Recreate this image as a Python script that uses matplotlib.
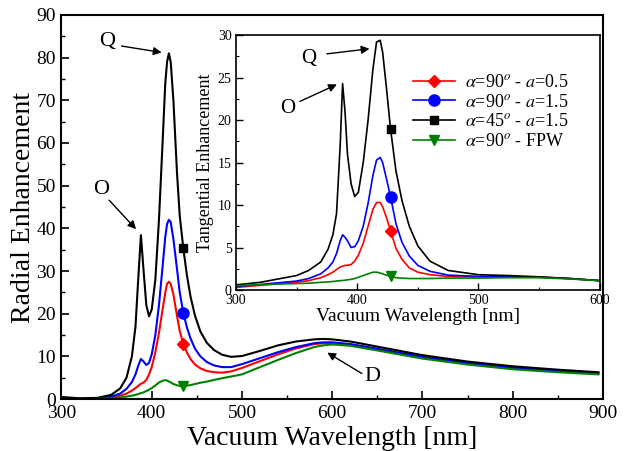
import numpy as np
import matplotlib
matplotlib.use("Agg")
import matplotlib.pyplot as plt
from matplotlib.ticker import MultipleLocator

plt.rcParams['font.family'] = ['Liberation Serif', 'DejaVu Serif']
plt.rcParams['mathtext.fontset'] = 'stix'

# radial enhancement (main plot)
wl_main = [300, 320, 340, 355, 365, 372, 378, 382, 385, 388, 391, 394, 397, 400, 404, 408,
           412, 415, 417, 419, 421, 424, 428, 431, 435, 439, 443, 448, 454, 461, 469, 478,
           488, 500, 520, 540, 560, 580, 590, 600, 620, 650, 700, 750, 800, 850, 895]
rad_45_15 = [0.5, 0.2, 0.3, 1.0, 2.5, 5, 10, 17, 28, 38.4, 30, 22, 19.4, 21, 28, 42,
             60, 74, 79, 81, 79, 70, 53, 43, 35.3, 29, 24, 19.5, 15.8, 13.2, 11.5, 10.4,
             9.9, 10.1, 11.3, 12.6, 13.5, 14.0, 14.1, 14.0, 13.5, 12.3, 10.3, 8.8, 7.7, 6.9, 6.3]
rad_90_15 = [0.3, 0.1, 0.2, 0.6, 1.3, 2.4, 4.0, 5.8, 7.8, 9.4, 8.8, 8.0, 8.5, 10.5, 15, 22,
             31, 38, 41, 42, 41.5, 37.5, 30.5, 25, 20.2, 16.8, 14.2, 11.8, 10.0, 8.7, 7.9, 7.5,
             7.5, 8.2, 9.6, 11.0, 12.2, 13.1, 13.3, 13.3, 12.9, 11.8, 9.9, 8.5, 7.4, 6.6, 6.1]
rad_90_05 = [0.2, 0.05, 0.1, 0.4, 0.8, 1.3, 2.0, 2.6, 3.1, 3.6, 3.9, 4.5, 5.8, 7.5, 11, 15.5,
             21, 25, 27, 27.5, 27, 24.5, 19.5, 16, 12.9, 10.9, 9.4, 8.1, 7.2, 6.6, 6.3, 6.2,
             6.5, 7.3, 8.9, 10.5, 11.9, 12.9, 13.1, 13.1, 12.8, 11.7, 9.8, 8.4, 7.3, 6.5, 6.0]
rad_fpw = [0.0, 0.0, 0.05, 0.2, 0.4, 0.6, 0.8, 1.0, 1.2, 1.4, 1.6, 1.9, 2.2, 2.6, 3.2, 3.9,
           4.3, 4.45, 4.35, 4.15, 3.9, 3.55, 3.25, 3.1, 3.05, 3.15, 3.3, 3.55, 3.85, 4.1, 4.5, 4.9,
           5.3, 5.8, 7.5, 9.2, 10.8, 12.2, 12.6, 12.8, 12.5, 11.4, 9.5, 8.1, 7.0, 6.3, 5.8]
mark_main = 435

# tangential enhancement (inset)
wl_ins = [300, 320, 335, 350, 360, 370, 376, 380, 383, 386, 388, 390, 392, 395, 398, 401,
          405, 409, 413, 416, 419, 421, 424, 427.5, 432, 437, 443, 450, 460, 475, 500, 525,
          550, 575, 600]
tan_45_15 = [0.6, 0.9, 1.3, 1.7, 2.3, 3.3, 4.8, 6.5, 9, 17, 24.3, 21, 16, 12.5, 11.0, 11.5,
             15, 20, 26, 29.2, 29.4, 28, 24, 19, 14, 10.5, 7.5, 5.2, 3.4, 2.3, 1.8, 1.7,
             1.55, 1.35, 1.1]
tan_90_15 = [0.4, 0.65, 0.85, 1.05, 1.35, 1.9, 2.6, 3.3, 4.3, 5.8, 6.5, 6.2, 5.8, 5.0, 5.1, 5.8,
             7.5, 10.2, 13.5, 15.3, 15.6, 15.0, 13.2, 11.0, 7.8, 5.6, 4.0, 2.9, 2.2, 1.75, 1.6, 1.55,
             1.5, 1.35, 1.1]
tan_90_05 = [0.3, 0.55, 0.75, 0.9, 1.1, 1.45, 1.8, 2.1, 2.4, 2.7, 2.8, 2.9, 2.9, 3.0, 3.4, 4.1,
             5.5, 7.5, 9.5, 10.3, 10.3, 9.8, 8.6, 7.0, 4.9, 3.6, 2.6, 2.1, 1.8, 1.6, 1.55, 1.5,
             1.5, 1.35, 1.1]
tan_fpw = [0.5, 0.6, 0.7, 0.75, 0.8, 0.9, 0.95, 1.0, 1.05, 1.1, 1.12, 1.15, 1.2, 1.25, 1.35, 1.5,
           1.7, 1.9, 2.1, 2.1, 2.0, 1.9, 1.75, 1.6, 1.45, 1.4, 1.35, 1.35, 1.35, 1.4, 1.4, 1.45,
           1.45, 1.3, 1.1]
mark_ins = 427.5

labels = [r'$\alpha$=90$^o$ - $a$=0.5', r'$\alpha$=90$^o$ - $a$=1.5',
          r'$\alpha$=45$^o$ - $a$=1.5', r'$\alpha$=90$^o$ - FPW']
colors = ['red', 'blue', 'black', 'green']
markers = ['D', 'o', 's', 'v']
msizes = [6, 8, 6, 7]

fig = plt.figure(figsize=(6.34, 4.51), dpi=100)
ax = fig.add_axes([0.097, 0.115, 0.854, 0.852])
ins = fig.add_axes([0.372, 0.357, 0.574, 0.565])

main_series = [rad_90_05, rad_90_15, rad_45_15, rad_fpw]
ins_series = [tan_90_05, tan_90_15, tan_45_15, tan_fpw]
im = wl_main.index(mark_main)
ii = wl_ins.index(mark_ins)
for ys, c, m, ms in zip(main_series, colors, markers, msizes):
    ax.plot(wl_main, ys, color=c, lw=1.5, marker=m, ms=ms, markevery=[im])
for ys, c, m, ms, lab in zip(ins_series, colors, markers, msizes, labels):
    ins.plot(wl_ins, ys, color=c, lw=1.2, marker=m, ms=ms, markevery=[ii], label=lab)

arrow = dict(arrowstyle='-|>', color='black', lw=1, shrinkA=0, shrinkB=0, mutation_scale=12)

# main axes
ax.set_xlim(300, 900)
ax.set_ylim(0, 90)
ax.xaxis.set_major_locator(MultipleLocator(100))
ax.xaxis.set_minor_locator(MultipleLocator(50))
ax.yaxis.set_major_locator(MultipleLocator(10))
ax.yaxis.set_minor_locator(MultipleLocator(5))
ax.tick_params(which='both', direction='in', top=False, right=False, labelsize=14, pad=4)
ax.tick_params(which='major', length=6, width=1.2)
ax.tick_params(which='minor', length=3, width=1.0)
for s in ax.spines.values():
    s.set_linewidth(1.5)
ax.set_xlabel('Vacuum Wavelength [nm]', fontsize=20, labelpad=3)
ax.set_ylabel('Radial Enhancement', fontsize=20, labelpad=0)

ax.text(350.6, 83.7, 'Q', fontsize=16, ha='center', va='center')
ax.annotate('', xy=(411, 81.2), xytext=(366.6, 82.7), arrowprops=arrow)
ax.text(343.7, 49, 'O', fontsize=16, ha='center', va='center')
ax.annotate('', xy=(382.6, 39.8), xytext=(352.8, 46.6), arrowprops=arrow)
ax.text(644, 5.2, 'D', fontsize=16, ha='center', va='center')
ax.annotate('', xy=(594.5, 10.9), xytext=(632.8, 6.0), arrowprops=arrow)

# inset axes
ins.set_xlim(300, 600)
ins.set_ylim(0, 30)
ins.xaxis.set_major_locator(MultipleLocator(100))
ins.xaxis.set_minor_locator(MultipleLocator(50))
ins.yaxis.set_major_locator(MultipleLocator(5))
ins.yaxis.set_minor_locator(MultipleLocator(2.5))
ins.tick_params(which='both', direction='in', top=False, right=False, labelsize=10, pad=3)
ins.tick_params(which='major', length=5, width=1.0)
ins.tick_params(which='minor', length=2.5, width=0.8)
for s in ins.spines.values():
    s.set_linewidth(1.2)
ins.set_xlabel('Vacuum Wavelength [nm]', fontsize=14, labelpad=0.5)
ins.set_ylabel('Tangential Enhancement', fontsize=13, labelpad=3)

ins.text(360, 27.2, 'Q', fontsize=15, ha='center', va='center')
ins.annotate('', xy=(410.2, 28.4), xytext=(375, 27.8), arrowprops=arrow)
ins.text(343, 21.4, 'O', fontsize=15, ha='center', va='center')
ins.annotate('', xy=(383.3, 24.2), xytext=(352.8, 22.2), arrowprops=arrow)

ins.legend(loc='upper right', bbox_to_anchor=(0.945, 0.89), frameon=False, fontsize=13,
           handlelength=2.3, handletextpad=0.6, labelspacing=0.15, borderaxespad=0.2)

fig.savefig('out.png', dpi=100)
